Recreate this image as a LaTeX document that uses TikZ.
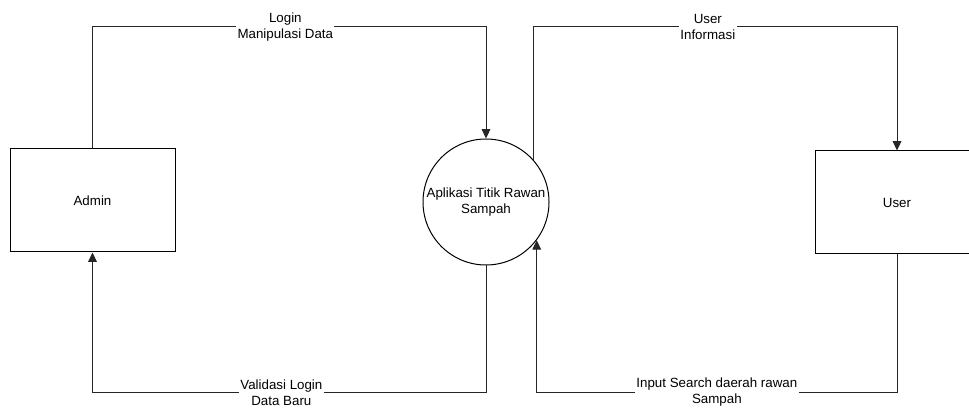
\documentclass[tikz,border=0pt]{standalone}
\usepackage{fontspec}
\setmainfont{Liberation Sans}
\usetikzlibrary{positioning, arrows.meta}

\tikzset{
  entitas/.style={draw, minimum width=123.75pt, minimum height=77.25pt, inner sep=0pt},
  proses/.style={draw, circle, minimum size=94.5pt, inner sep=0pt, align=center},
  alur/.style={-{Triangle[length=7pt,width=6.5pt]}, line width=0.75pt, black!85},
  teksalur/.style={fill=white, align=center, inner sep=1pt, text=black}
}

\begin{document}
\begin{tikzpicture}[x=0.75pt, y=-0.75pt, font=\fontsize{10}{12}\selectfont, line width=0.75pt]
\useasboundingbox (0,0) rectangle (969,409);
\clip (0,0) rectangle (969,409);
\node[entitas] (admin) at (92.5,200.5) {Admin};
\node[proses] (app) at (486,202) {Aplikasi Titik Rawan\\Sampah};
\node[entitas, minimum width=123pt] (user) at (897,202.5) {User};
\coordinate (atas) at (0,27);
\coordinate (bawah) at (0,392.5);
\draw[alur] (admin.north) -- (admin.north |- atas)
    -- node[teksalur, pos=0.49]{Login\\Manipulasi Data} (app.north |- atas) -- (app.north);
\draw[alur] (app.south) -- (app.south |- bawah)
    -- node[teksalur, pos=0.52]{Validasi Login\\Data Baru} (admin.south |- bawah) -- (admin.south);
\draw[alur] (app.42) -- (app.42 |- atas)
    -- node[teksalur, pos=0.48]{User\\Informasi} (user.north |- atas) -- (user.north);
\draw[alur] (user.south) -- (user.south |- bawah)
    -- node[teksalur]{Input Search daerah rawan\\Sampah} (app.-37 |- bawah) -- (app.-37);
\end{tikzpicture}
\end{document}
